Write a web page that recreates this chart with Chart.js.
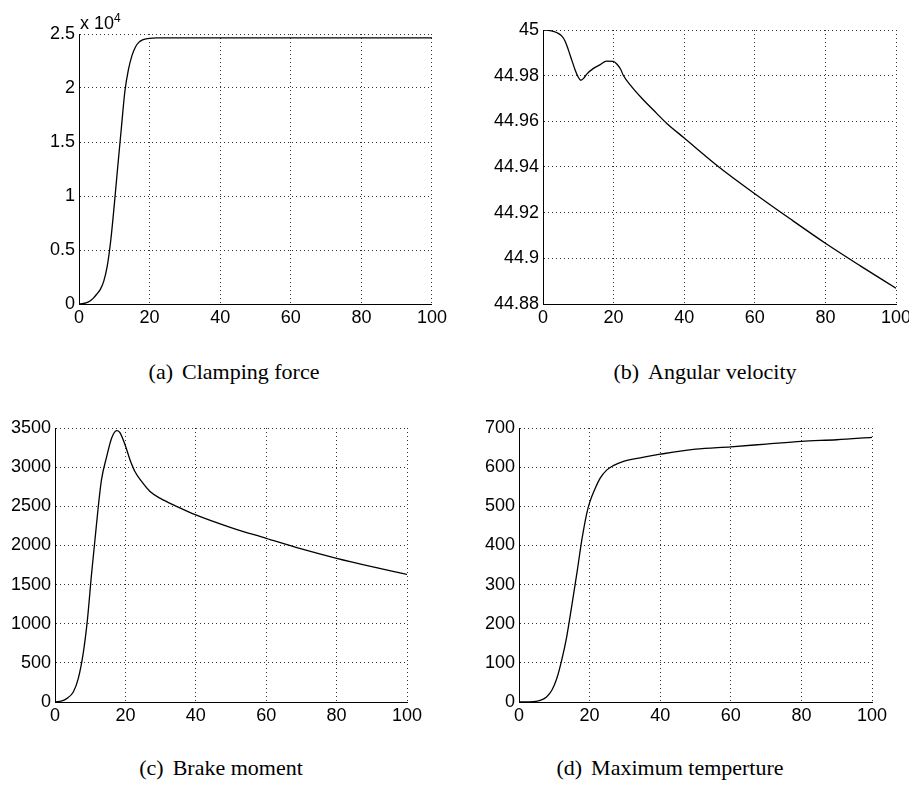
<!DOCTYPE html>
<html lang="en">

<head>
    <meta charset="UTF-8">
    <title>Brake simulation</title>
    <script src="https://cdn.jsdelivr.net/npm/chart.js"></script>
    <style>
        html,
        body {
            margin: 0;
            width: 909px;
            height: 785px;
            overflow: hidden;
            background: #fff;
        }

        .panel {
            position: absolute;
        }

        .cap {
            position: absolute;
            font-family: "Liberation Serif", serif;
            font-size: 22px;
            color: #000;
            white-space: nowrap;
            transform: translate(-50%, -50%);
        }

        .cap span {
            margin-right: 9px;
        }

        #mult {
            position: absolute;
            left: 80px;
            top: 11px;
            font-family: "Liberation Sans", sans-serif;
            font-size: 18px;
        }

        #mult sup {
            font-size: 12px;
            vertical-align: 7px;
        }
    </style>
</head>

<body>
    <div class="panel" style="left:0;top:0"><canvas id="ca" width="450" height="340"></canvas></div>
    <div class="panel" style="left:450px;top:0"><canvas id="cb" width="470" height="340"></canvas></div>
    <div class="panel" style="left:0;top:400px"><canvas id="cc" width="450" height="340"></canvas></div>
    <div class="panel" style="left:450px;top:400px"><canvas id="cd" width="459" height="340"></canvas></div>

    <div id="mult">x 10<sup>4</sup></div>

    <div class="cap" style="left:234px;top:372px"><span>(a)</span>Clamping force</div>
    <div class="cap" style="left:705px;top:372px"><span>(b)</span>Angular velocity</div>
    <div class="cap" style="left:221px;top:768px"><span>(c)</span>Brake moment</div>
    <div class="cap" style="left:670px;top:768px"><span>(d)</span>Maximum temperture</div>

    <script>
        // (a) clamping force
        const clampT = [0, 1, 2, 3, 4, 5, 6, 7, 8, 9, 10, 11, 12, 13, 14, 15, 16, 17, 18, 19, 20, 22, 25, 30, 40, 50, 60, 70, 80, 90, 100];
        const clampF = [0, 30, 100, 250, 520, 900, 1330, 2100, 3500, 5900, 9200, 12800, 16300, 19700, 21700, 23000, 23800, 24250, 24450, 24550, 24600, 24640, 24650, 24650, 24650, 24650, 24650, 24650, 24650, 24650, 24650];

        // (b) angular velocity
        const angT = [0, 2, 4, 5.3, 6.3, 7.2, 8.2, 9.1, 10, 10.7, 11.5, 12.4, 14.3, 16.1, 18, 19.9, 20.9, 22, 22.7, 25.1, 28, 32.2, 35, 40, 50, 60, 70, 80, 90, 100];
        const angW = [45.0000, 44.9997, 44.9988, 44.9974, 44.9950, 44.9912, 44.9866, 44.9825, 44.9793, 44.9780, 44.9788, 44.9807, 44.9832, 44.9847, 44.9864, 44.9863, 44.9851, 44.9828, 44.9803, 44.9752, 44.9701, 44.9635, 44.9592, 44.9527, 44.9398, 44.9283, 44.9173, 44.9066, 44.8966, 44.8869];

        // (c) brake moment
        const brakeT = [0, 2, 3.3, 5.2, 6.6, 8, 9.2, 10.4, 11.35, 12.3, 13.2, 14.7, 16.1, 17.5, 18.4, 19.9, 21.3, 22.7, 24.6, 27, 29.8, 35, 40, 50, 60, 70, 80, 90, 100];
        const brakeM = [0, 15, 43, 128, 299, 619, 1046, 1643, 2070, 2497, 2838, 3137, 3372, 3466, 3445, 3287, 3095, 2945, 2817, 2689, 2604, 2490, 2390, 2228, 2091, 1955, 1835, 1729, 1630];

        // (d) maximum temperature
        const tempT = [0, 4.1, 6, 7.8, 9.3, 10.7, 12.1, 13.5, 14.9, 16.4, 17.8, 19.2, 20.1, 21.6, 23, 24.9, 26.7, 29.6, 35, 40, 50, 60, 70, 80, 90, 100];
        const tempV = [0, 1, 4, 13, 30, 60, 107, 166, 243, 329, 414, 482, 512, 546, 572, 593, 604, 615, 625, 633, 646, 652, 659, 666, 670, 676];

        const xTicks = [0, 20, 40, 60, 80, 100];

        const tickFont = { family: "'Liberation Sans', Arial, sans-serif", size: 18 };

        function gridOpts() {
            return {
                display: true,
                color: '#333',
                lineWidth: 1,
                drawTicks: false
            };
        }

        function makeChart(id, xs, ys, box, yMin, yMax, yStep, yFmt) {
            const pts = xs.map((x, i) => ({ x: x, y: ys[i] }));
            return new Chart(document.getElementById(id), {
                type: 'line',
                data: {
                    datasets: [{
                        data: pts,
                        borderColor: '#000',
                        borderWidth: 1.3,
                        pointRadius: 0,
                        fill: false,
                        cubicInterpolationMode: 'monotone'
                    }]
                },
                options: {
                    responsive: false,
                    animation: false,
                    layout: { padding: { left: 0, top: box.top, right: box.right, bottom: 0 } },
                    plugins: { legend: { display: false }, tooltip: { enabled: false } },
                    scales: {
                        x: {
                            type: 'linear',
                            min: 0,
                            max: 100,
                            afterBuildTicks: s => { s.ticks = xTicks.map(v => ({ value: v })); },
                            afterFit: s => { s.height = box.xh; },
                            grid: gridOpts(),
                            border: { display: true, color: '#000', width: 1, dash: [1, 3] },
                            ticks: { color: '#000', font: tickFont, padding: 3, maxRotation: 0 }
                        },
                        y: {
                            type: 'linear',
                            min: yMin,
                            max: yMax,
                            afterBuildTicks: s => {
                                const t = [];
                                const n = Math.round((yMax - yMin) / yStep);
                                for (let i = 0; i <= n; i++) t.push({ value: yMin + i * yStep });
                                s.ticks = t;
                            },
                            afterFit: s => { s.width = box.yw; },
                            grid: gridOpts(),
                            border: { display: true, color: '#000', width: 1, dash: [1, 3] },
                            ticks: { color: '#000', font: tickFont, padding: 4, callback: yFmt }
                        }
                    }
                }
            });
        }

        makeChart('ca', clampT, clampF, { top: 34, right: 18, xh: 36, yw: 79 }, 0, 25000, 5000,
            v => String(Math.round(v / 1000) / 10));
        makeChart('cb', angT, angW, { top: 30, right: 24, xh: 36, yw: 93 }, 44.88, 45, 0.02,
            v => String(Math.round(v * 100) / 100));
        makeChart('cc', brakeT, brakeM, { top: 28, right: 43, xh: 38, yw: 55 }, 0, 3500, 500,
            v => String(Math.round(v)));
        makeChart('cd', tempT, tempV, { top: 28, right: 37, xh: 38, yw: 69 }, 0, 700, 100,
            v => String(Math.round(v)));
    </script>
</body>

</html>
